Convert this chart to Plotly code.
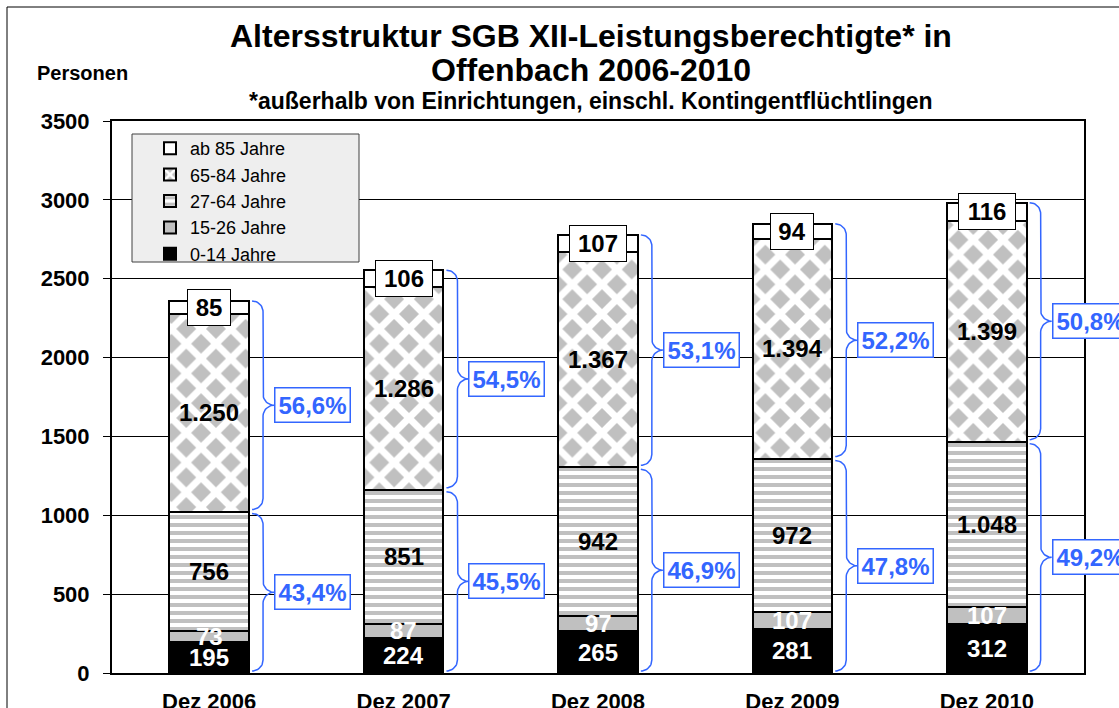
import math
import plotly.graph_objects as go

# ---------------- data ----------------
categories = ["Dez 2006", "Dez 2007", "Dez 2008", "Dez 2009", "Dez 2010"]
age_0_14 = [195, 224, 265, 281, 312]
age_15_26 = [73, 87, 97, 107, 107]
age_27_64 = [756, 851, 942, 972, 1048]
age_65_84 = [1250, 1286, 1367, 1394, 1399]
age_85_plus = [85, 106, 107, 94, 116]
series_names = ["0-14 Jahre", "15-26 Jahre", "27-64 Jahre", "65-84 Jahre", "ab 85 Jahre"]
y_ticks = [0, 500, 1000, 1500, 2000, 2500, 3000, 3500]

title_line1 = "Altersstruktur SGB XII-Leistungsberechtigte* in"
title_line2 = "Offenbach 2006-2010"
subtitle_text = "*außerhalb von Einrichtungen, einschl. Kontingentflüchtlingen"
y_title = "Personen"

# ---------------- layout geometry (pixels) ----------------
W, H = 1119, 708
L, R, T, B = 112, 1084, 121, 673
FONT = "Liberation Sans, Arial, sans-serif"
BLUE = "#3366ff"
GREY = "#c0c0c0"


def px(x):
    return (x - L) / (R - L)


def py(y):
    return (B - y) / (B - T)


YMAX = 3500
unit_per_px_y = YMAX / (B - T)
unit_per_px_x = 5 / (R - L)
bar_w = 0.41

series = [age_0_14, age_15_26, age_27_64, age_65_84, age_85_plus]
xs = list(range(len(categories)))

fig = go.Figure()

styles = [
    dict(color="black"),
    dict(color=GREY),
    dict(color="white", pattern=dict(shape="-", size=8, solidity=0.5,
                                     fgcolor=GREY, bgcolor="white", fillmode="replace")),
    dict(color="white", pattern=dict(shape="x", size=21, solidity=0.55,
                                     fgcolor="white", bgcolor=GREY, fillmode="replace")),
    dict(color="white"),
]

for name, vals, st in zip(series_names, series, styles):
    fig.add_trace(go.Bar(
        x=xs, y=vals, name=name, width=bar_w,
        marker=dict(line=dict(color="black", width=2), **st),
        hoverinfo="skip",
    ))


def fmt_num(v):
    return f"{v:,}".replace(",", ".")


annotations = []
# value labels
for i in xs:
    base = 0
    for k, vals in enumerate(series):
        v = vals[i]
        mid = base + v / 2
        if k == 4:
            n = len(str(v))
            annotations.append(dict(
                x=i, y=mid, xref="x", yref="y", text=f"<b>{v}</b>", showarrow=False,
                font=dict(family=FONT, size=24, color="black"),
                bgcolor="white", bordercolor="black", borderwidth=1, borderpad=4,
                width=14 * n + 6, xanchor="center", yanchor="middle"))
        else:
            col = "white" if k < 2 else "black"
            annotations.append(dict(
                x=i, y=mid, xref="x", yref="y", text=f"<b>{fmt_num(v)}</b>", showarrow=False,
                font=dict(family=FONT, size=24, color=col),
                xanchor="center", yanchor="middle"))
        base += v


def brace(i, yb, yt):
    x0 = i + bar_w / 2 + 3 * unit_per_px_x
    x1 = i + bar_w / 2 + 14 * unit_per_px_x
    x2 = i + bar_w / 2 + 25 * unit_per_px_x
    r = 11 * unit_per_px_y
    ym = (yb + yt) / 2
    n = 12
    X, Y = [], []
    for j in range(n + 1):
        t = j / n * math.pi / 2
        X.append(x0 + (x1 - x0) * math.sin(t)); Y.append(yt - r + r * math.cos(t))
    for j in range(n + 1):
        t = j / n * math.pi / 2
        X.append(x2 - (x2 - x1) * math.cos(t)); Y.append(ym + r - r * math.sin(t))
    for j in range(n + 1):
        t = j / n * math.pi / 2
        X.append(x2 - (x2 - x1) * math.sin(t)); Y.append(ym - r + r * math.cos(t))
    for j in range(n + 1):
        t = j / n * math.pi / 2
        X.append(x0 + (x1 - x0) * math.cos(t)); Y.append(yb + r - r * math.sin(t))
    return X, Y, x2, ym


gap = 2 * unit_per_px_y
for i in xs:
    lower = age_0_14[i] + age_15_26[i] + age_27_64[i]
    total = lower + age_65_84[i] + age_85_plus[i]
    parts = [(0 + gap, lower - gap, lower / total), (lower + gap, total, (total - lower) / total)]
    for yb, yt, share in parts:
        X, Y, xt, ym = brace(i, yb, yt)
        fig.add_trace(go.Scatter(x=X, y=Y, mode="lines", line=dict(color=BLUE, width=1.5),
                                 showlegend=False, hoverinfo="skip"))
        pct = f"{share * 100:.1f}".replace(".", ",") + "%"
        annotations.append(dict(
            x=xt, y=ym, xref="x", yref="y", text=f"<b>{pct}</b>", showarrow=False,
            font=dict(family=FONT, size=24, color=BLUE),
            bgcolor="white", bordercolor=BLUE, borderwidth=1.5, borderpad=3,
            xanchor="left", yanchor="middle"))

# titles
annotations += [
    dict(x=px(591), y=py(36), xref="paper", yref="paper", text=f"<b>{title_line1}</b>",
         showarrow=False, font=dict(family=FONT, size=32, color="black"),
         xanchor="center", yanchor="middle"),
    dict(x=px(591), y=py(70), xref="paper", yref="paper", text=f"<b>{title_line2}</b>",
         showarrow=False, font=dict(family=FONT, size=32, color="black"),
         xanchor="center", yanchor="middle"),
    dict(x=px(591), y=py(101), xref="paper", yref="paper", text=f"<b>{subtitle_text}</b>",
         showarrow=False, font=dict(family=FONT, size=23, color="black"),
         xanchor="center", yanchor="middle"),
    dict(x=px(82), y=py(73), xref="paper", yref="paper", text=f"<b>{y_title}</b>",
         showarrow=False, font=dict(family=FONT, size=20, color="black"),
         xanchor="center", yanchor="middle"),
]

shapes = [
    # outer chart frame
    dict(type="rect", xref="paper", yref="paper", x0=px(7), x1=px(1135), y0=py(7), y1=py(725),
         line=dict(color="black", width=1), fillcolor="rgba(0,0,0,0)", layer="below"),
    # legend box
    dict(type="rect", xref="paper", yref="paper", x0=px(132), x1=px(359), y0=py(134), y1=py(262),
         line=dict(color="#404040", width=1), fillcolor="#eeeeee", layer="above"),
]

fig.update_layout(
    width=W, height=H,
    margin=dict(l=L, r=W - R, t=T, b=H - B, autoexpand=False),
    paper_bgcolor="white", plot_bgcolor="white",
    barmode="stack",
    font=dict(family=FONT, color="black"),
    showlegend=True,
    legend=dict(x=px(150), y=py(130), xanchor="left", yanchor="top",
                bgcolor="rgba(0,0,0,0)", traceorder="reversed",
                font=dict(family=FONT, size=18, color="black"),
                itemwidth=30, tracegroupgap=0),
    xaxis=dict(range=[-0.5, 4.5], tickvals=xs, ticktext=[f"<b>{c}</b>" for c in categories],
               showgrid=False, zeroline=False, showline=True, linecolor="black", linewidth=2,
               mirror=True, ticks="", tickfont=dict(family=FONT, size=22, color="black"),
               ticklabelstandoff=8),
    yaxis=dict(range=[0, YMAX], tickvals=y_ticks, ticktext=[f"<b>{v}</b>" for v in y_ticks],
               showgrid=True, gridcolor="black", gridwidth=1, zeroline=False,
               showline=True, linecolor="black", linewidth=2, mirror=True,
               ticks="outside", ticklen=7, tickcolor="black", tickwidth=1,
               tickfont=dict(family=FONT, size=22, color="black"), ticklabelstandoff=9),
    annotations=annotations,
    shapes=shapes,
)

fig.write_html("out.html", config={"displayModeBar": False},
               post_script="document.body.style.margin='0';document.body.style.overflow='hidden';")
